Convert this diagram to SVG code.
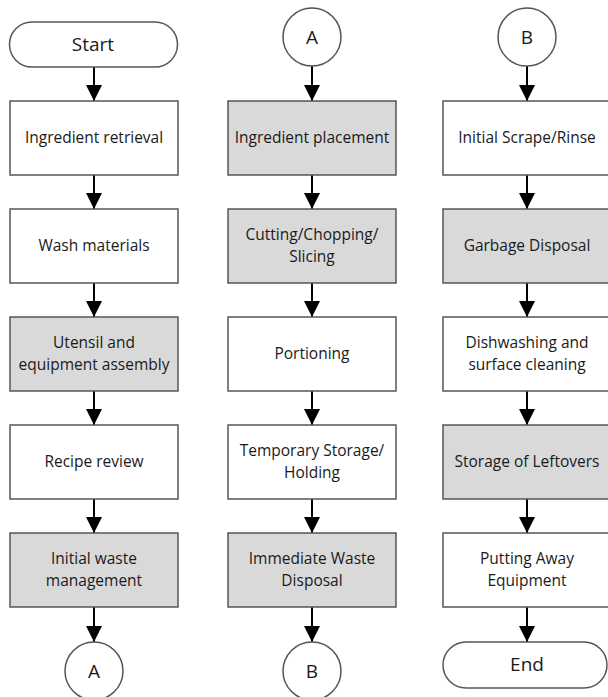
<svg xmlns="http://www.w3.org/2000/svg" width="608" height="697" viewBox="0 0 608 697">
<style>
.b{stroke:#555;stroke-width:1.5;fill:#fff}
.g{fill:#d9d9d9}
.t{font-family:"Open Sans","Liberation Sans",sans-serif;font-size:15.5px;fill:#1a1a1a;text-anchor:middle}
.big{font-size:19px}
.c{stroke:#000;stroke-width:2;fill:none}
</style>
<defs>
<marker id="ah" markerUnits="userSpaceOnUse" markerWidth="16" markerHeight="16" viewBox="0 0 16 16" refX="16" refY="8" orient="auto">
<path d="M0,0 L16,8 L0,16 Z" fill="#000"/>
</marker>
</defs>
<rect width="608" height="697" fill="#fff"/>
<g id="connectors">
<line class="c" x1="94" y1="67" x2="94" y2="101" marker-end="url(#ah)"/>
<line class="c" x1="94" y1="175" x2="94" y2="209" marker-end="url(#ah)"/>
<line class="c" x1="94" y1="283" x2="94" y2="317" marker-end="url(#ah)"/>
<line class="c" x1="94" y1="391" x2="94" y2="425" marker-end="url(#ah)"/>
<line class="c" x1="94" y1="499" x2="94" y2="533" marker-end="url(#ah)"/>
<line class="c" x1="94" y1="607" x2="94" y2="642" marker-end="url(#ah)"/>
<line class="c" x1="312" y1="66" x2="312" y2="101" marker-end="url(#ah)"/>
<line class="c" x1="312" y1="175" x2="312" y2="209" marker-end="url(#ah)"/>
<line class="c" x1="312" y1="283" x2="312" y2="317" marker-end="url(#ah)"/>
<line class="c" x1="312" y1="391" x2="312" y2="425" marker-end="url(#ah)"/>
<line class="c" x1="312" y1="499" x2="312" y2="533" marker-end="url(#ah)"/>
<line class="c" x1="312" y1="607" x2="312" y2="642" marker-end="url(#ah)"/>
<line class="c" x1="527" y1="66" x2="527" y2="101" marker-end="url(#ah)"/>
<line class="c" x1="527" y1="175" x2="527" y2="209" marker-end="url(#ah)"/>
<line class="c" x1="527" y1="283" x2="527" y2="317" marker-end="url(#ah)"/>
<line class="c" x1="527" y1="391" x2="527" y2="425" marker-end="url(#ah)"/>
<line class="c" x1="527" y1="499" x2="527" y2="533" marker-end="url(#ah)"/>
<line class="c" x1="527" y1="607" x2="527" y2="642" marker-end="url(#ah)"/>
</g>
<g id="start"><rect class="b" x="9.5" y="22" width="168" height="45" rx="22.5"/><text class="t big" x="93" y="51">Start</text></g>
<g id="n1"><rect class="b" x="10" y="101" width="168" height="74"/><text class="t" x="94" y="143">Ingredient retrieval</text></g>
<g id="n2"><rect class="b" x="10" y="209" width="168" height="74"/><text class="t" x="94" y="251">Wash materials</text></g>
<g id="n3"><rect class="b g" x="10" y="317" width="168" height="74"/><text class="t" x="94" y="348">Utensil and</text><text class="t" x="94" y="370">equipment assembly</text></g>
<g id="n4"><rect class="b" x="10" y="425" width="168" height="74"/><text class="t" x="94" y="467">Recipe review</text></g>
<g id="n5"><rect class="b g" x="10" y="533" width="168" height="74"/><text class="t" x="94" y="564">Initial waste</text><text class="t" x="94" y="586">management</text></g>
<g id="a1"><circle class="b" cx="94" cy="671" r="29"/><text class="t big" x="94" y="678">A</text></g>
<g id="a2"><circle class="b" cx="312" cy="37" r="29"/><text class="t big" x="312" y="44">A</text></g>
<g id="m1"><rect class="b g" x="228" y="101" width="168" height="74"/><text class="t" x="312" y="143">Ingredient placement</text></g>
<g id="m2"><rect class="b g" x="228" y="209" width="168" height="74"/><text class="t" x="312" y="240">Cutting/Chopping/</text><text class="t" x="312" y="262">Slicing</text></g>
<g id="m3"><rect class="b" x="228" y="317" width="168" height="74"/><text class="t" x="312" y="359">Portioning</text></g>
<g id="m4"><rect class="b" x="228" y="425" width="168" height="74"/><text class="t" x="312" y="456">Temporary Storage/</text><text class="t" x="312" y="478">Holding</text></g>
<g id="m5"><rect class="b g" x="228" y="533" width="168" height="74"/><text class="t" x="312" y="564">Immediate Waste</text><text class="t" x="312" y="586">Disposal</text></g>
<g id="b1"><circle class="b" cx="312" cy="671" r="29"/><text class="t big" x="312" y="678">B</text></g>
<g id="b2"><circle class="b" cx="527" cy="37" r="29"/><text class="t big" x="527" y="44">B</text></g>
<g id="r1"><rect class="b" x="443" y="101" width="168" height="74"/><text class="t" x="527" y="143">Initial Scrape/Rinse</text></g>
<g id="r2"><rect class="b g" x="443" y="209" width="168" height="74"/><text class="t" x="527" y="251">Garbage Disposal</text></g>
<g id="r3"><rect class="b" x="443" y="317" width="168" height="74"/><text class="t" x="527" y="348">Dishwashing and</text><text class="t" x="527" y="370">surface cleaning</text></g>
<g id="r4"><rect class="b g" x="443" y="425" width="168" height="74"/><text class="t" x="527" y="467">Storage of Leftovers</text></g>
<g id="r5"><rect class="b" x="443" y="533" width="168" height="74"/><text class="t" x="527" y="564">Putting Away</text><text class="t" x="527" y="586">Equipment</text></g>
<g id="end"><rect class="b" x="443" y="642" width="164" height="46" rx="23"/><text class="t big" x="527" y="671">End</text></g>
</svg>
